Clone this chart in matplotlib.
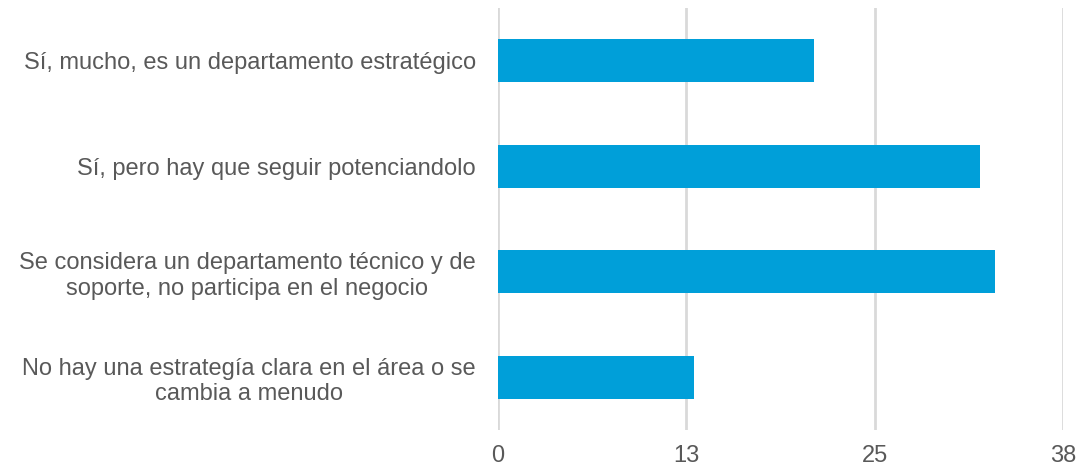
import matplotlib.pyplot as plt
import numpy as np

plt.rcParams['font.family'] = ['Liberation Sans', 'DejaVu Sans']

categorias = [
    "Sí, mucho, es un departamento estratégico",
    "Sí, pero hay que seguir potenciandolo",
    "Se considera un departamento técnico y de\nsoporte, no participa en el negocio",
    "No hay una estrategía clara en el área o se\ncambia a menudo",
]
valores = [21, 32, 33, 13]
ticks = [0, 12.5, 25, 37.5]
tick_labels = ["0", "13", "25", "38"]

gris = "#595959"
azul = "#009FD9"

fig = plt.figure(figsize=(10.79, 4.69), dpi=100)
ax = fig.add_axes([0.4615, 0.083, 0.5235, 0.9])

y = np.arange(len(categorias))
ax.barh(y, valores, height=0.41, color=azul, zorder=3)

ax.set_xlim(0, 37.5)
ax.set_ylim(len(categorias) - 0.5, -0.5)
ax.set_xticks(ticks)
ax.set_xticklabels(tick_labels)
ax.set_yticks(y)
ax.set_yticklabels(categorias, multialignment="center")

ax.grid(axis="x", color="#D9D9D9", linewidth=2, zorder=0)
for s in ax.spines.values():
    s.set_visible(False)
ax.tick_params(axis="both", length=0, labelsize=17, labelcolor=gris)
ax.tick_params(axis="y", pad=16)
ax.tick_params(axis="x", pad=11)

fig.savefig("out.png", dpi=100)
